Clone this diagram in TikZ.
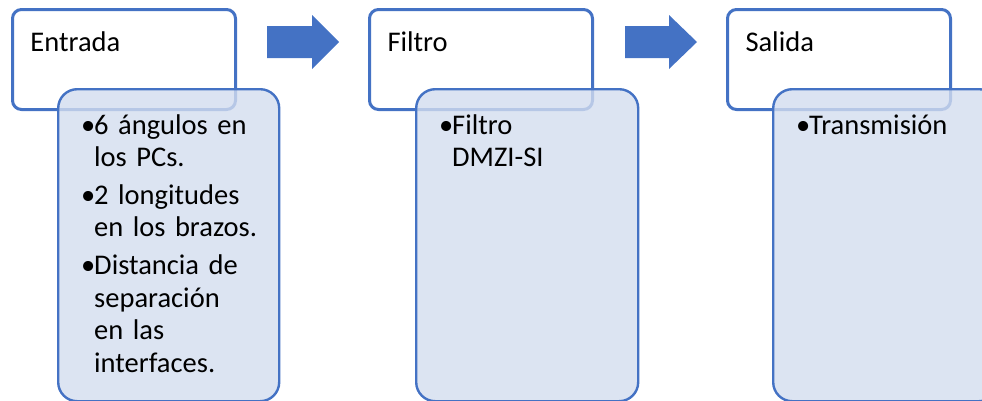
\documentclass[tikz,border=0pt]{standalone}
\usepackage{fontspec}
\setmainfont{Carlito}
\usepackage{array}
\definecolor{accent}{RGB}{68,114,196}
\definecolor{subfill}{RGB}{211,221,239}
\tikzset{
	head/.style={
			draw=accent, line width=3pt, rounded corners=9pt, fill=white,
			anchor=north west, text width=187pt, inner xsep=18pt, inner ysep=0pt,
			align=left, text height=42pt, text depth=58pt,
			font=\fontsize{28.5}{32.4}\selectfont
		},
	sub/.style={
			draw=accent, line width=2.4pt, rounded corners=19pt, fill=subfill,
			fill opacity=0.8, text opacity=1,
			anchor=north west, text width=#1, inner xsep=23pt, inner ysep=0pt,
			align=left, text height=45pt, text depth=267pt,
			font=\fontsize{28.5}{32.4}\selectfont
		},
	flecha/.style={fill=accent, draw=none}
}
\newcommand{\lista}[1]{\begin{tabular}[t]{@{}p{13pt}@{}l@{}}#1\end{tabular}}

\begin{document}
\begin{tikzpicture}[x=1pt, y=-1pt]
        \clip (0,0) rectangle (982,400);

        \node[head] (entrada) at (11,8) {Entrada};
        \node[head] (filtro) at (368,8) {Filtro};
        \node[head] (salida) at (726,8) {Salida};

        \fill[flecha] (267,26) -- (312,26) -- (312,15) -- (339,42) -- (312,69) -- (312,58) -- (267,58) -- cycle;
        \fill[flecha] (625,26) -- (669,26) -- (669,15) -- (697,42) -- (669,69) -- (669,58) -- (625,58) -- cycle;

        \node[sub=175pt] (entradaSub) at (57,88) {\lista{%
                \textbullet & 6 ángulos en\\ & los PCs.\\[5.5pt]
                \textbullet & 2 longitudes\\ & en los brazos.\\[5.5pt]
                \textbullet & Distancia de\\ & separación\\ & en las\\ & interfaces.}};
        \node[sub=176pt] (filtroSub) at (415,88) {\lista{%
                \textbullet & Filtro\\ & DMZI-SI}};
        \node[sub=179pt] (salidaSub) at (772,88) {\lista{%
                \textbullet & Transmisión}};
    \end{tikzpicture}
\end{document}
